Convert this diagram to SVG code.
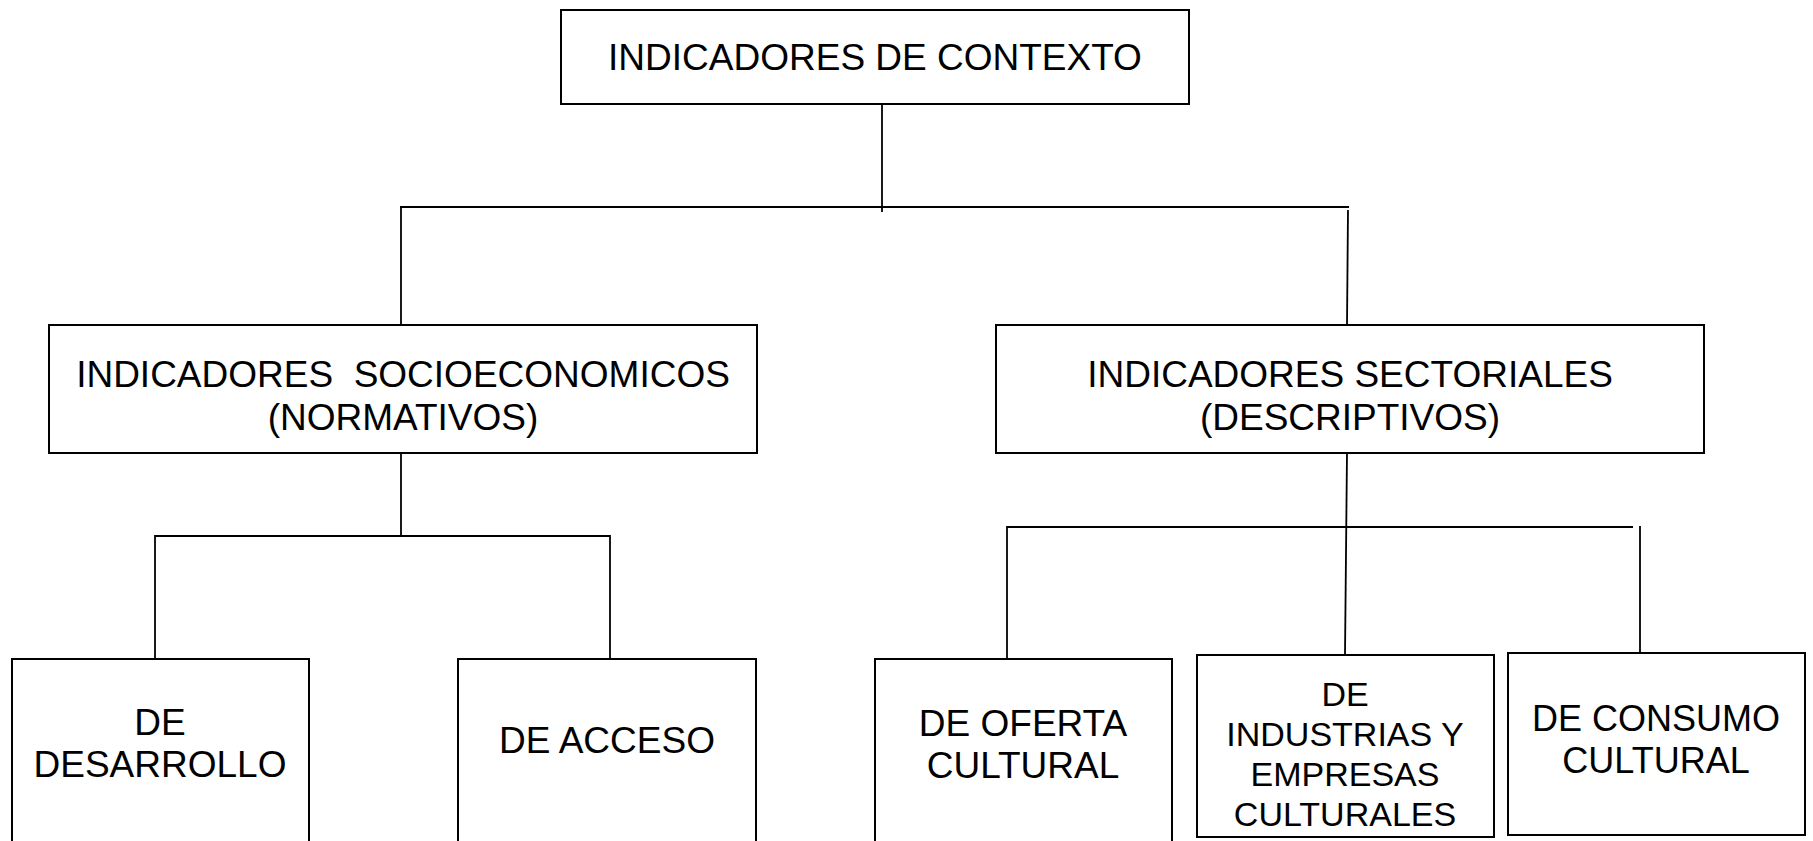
<svg xmlns="http://www.w3.org/2000/svg" width="1813" height="841" viewBox="0 0 1813 841">
<style>
.box{fill:#fff;stroke:#000;stroke-width:2}
.ln{stroke:#000;stroke-width:1.8;fill:none}
text{font-family:"Liberation Sans",Arial,sans-serif;font-size:37px;fill:#000;text-anchor:middle}
.sm{font-size:34px}
</style>
<rect width="1813" height="841" fill="#fff"/>
<g id="connectors">
<line class="ln" x1="882" y1="104" x2="882" y2="212"/>
<line class="ln" x1="400" y1="207" x2="1349" y2="207"/>
<line class="ln" x1="401" y1="208" x2="401" y2="325"/>
<line class="ln" x1="1348" y1="210" x2="1347" y2="325"/>
<line class="ln" x1="401" y1="453" x2="401" y2="536"/>
<line class="ln" x1="155" y1="536" x2="610" y2="536"/>
<line class="ln" x1="155" y1="535" x2="155" y2="659"/>
<line class="ln" x1="610" y1="535" x2="610" y2="659"/>
<line class="ln" x1="1347" y1="453" x2="1345" y2="655"/>
<line class="ln" x1="1007" y1="527" x2="1633" y2="527"/>
<line class="ln" x1="1007" y1="526" x2="1007" y2="659"/>
<line class="ln" x1="1640" y1="526" x2="1640" y2="654"/>
</g>
<g id="n-contexto">
<rect class="box" x="561" y="10" width="628" height="94"/>
<text x="875" y="70">INDICADORES DE CONTEXTO</text>
</g>
<g id="n-socio">
<rect class="box" x="49" y="325" width="708" height="128"/>
<text x="403" y="387" xml:space="preserve">INDICADORES  SOCIOECONOMICOS</text>
<text x="403" y="430">(NORMATIVOS)</text>
</g>
<g id="n-sect">
<rect class="box" x="996" y="325" width="708" height="128"/>
<text x="1350" y="387">INDICADORES SECTORIALES</text>
<text x="1350" y="430">(DESCRIPTIVOS)</text>
</g>
<g id="n-desarrollo">
<rect class="box" x="12" y="659" width="297" height="200"/>
<text x="160" y="735">DE</text>
<text x="160" y="777">DESARROLLO</text>
</g>
<g id="n-acceso">
<rect class="box" x="458" y="659" width="298" height="200"/>
<text x="607" y="753">DE ACCESO</text>
</g>
<g id="n-oferta">
<rect class="box" x="875" y="659" width="297" height="200"/>
<text x="1023" y="736">DE OFERTA</text>
<text x="1023" y="778">CULTURAL</text>
</g>
<g id="n-industrias">
<rect class="box" x="1197" y="655" width="297" height="182"/>
<text class="sm" x="1345" y="706">DE</text>
<text class="sm" x="1345" y="746">INDUSTRIAS Y</text>
<text class="sm" x="1345" y="786">EMPRESAS</text>
<text class="sm" x="1345" y="826">CULTURALES</text>
</g>
<g id="n-consumo">
<rect class="box" x="1508" y="653" width="297" height="182"/>
<text x="1656" y="731" style="font-size:36px">DE CONSUMO</text>
<text x="1656" y="773" style="font-size:36px">CULTURAL</text>
</g>
</svg>
